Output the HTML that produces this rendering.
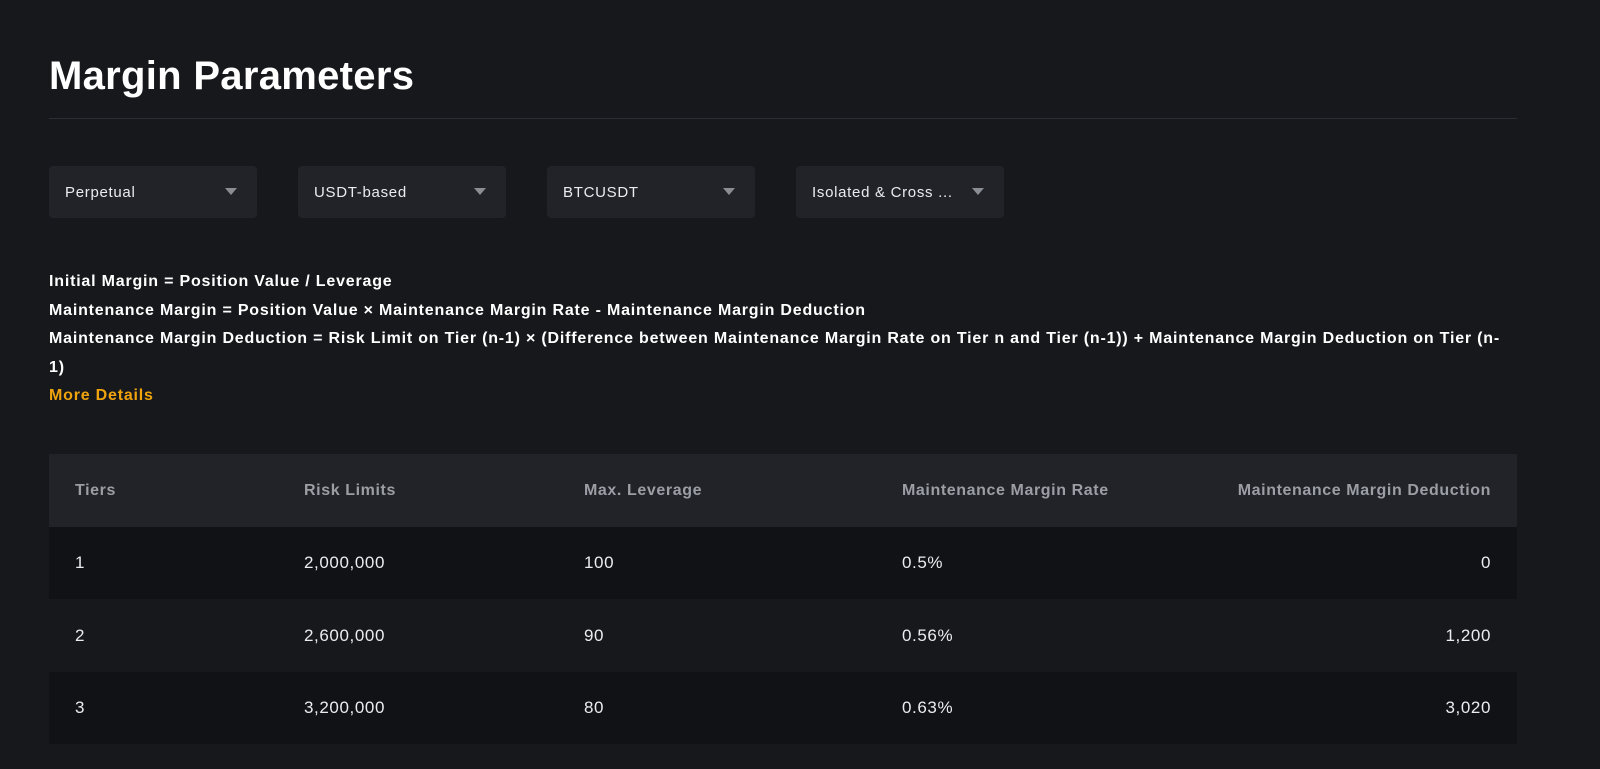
<!DOCTYPE html>
<html><head><meta charset="utf-8"><style>
*{margin:0;padding:0;box-sizing:border-box}
body{width:1600px;height:769px;background:#17181c;font-family:"Liberation Sans",sans-serif;color:#eaecef;overflow:hidden;position:relative}
h1{position:absolute;left:49px;top:54px;font-size:40px;font-weight:bold;color:#fff;letter-spacing:0.3px}
.rule{position:absolute;left:49px;top:118px;width:1468px;height:1px;background:#2b2e35}
.dd{position:absolute;top:166px;width:208px;height:52px;background:#212328;border-radius:4px;font-size:15px;letter-spacing:0.7px;color:#eaecef;padding:18px 0 0 16px}
.dd:after{content:"";position:absolute;right:20px;top:22px;border-left:6px solid transparent;border-right:6px solid transparent;border-top:7px solid #8a8d94}
.f{position:absolute;left:49px;top:268px;font-size:16px;font-weight:bold;line-height:28.6px;color:#fff;width:1460px;letter-spacing:0.8px}
.f .o{color:#f0a30c}
.row{position:absolute;left:49px;width:1468px;font-size:17px;letter-spacing:0.6px}
.row span{position:absolute;top:50%;transform:translateY(-50%)}
.h{color:#9b9ea5;font-weight:bold;font-size:16px;letter-spacing:0.6px}
</style></head><body>
<h1>Margin Parameters</h1>
<div class="rule"></div>
<div class="dd" style="left:49px">Perpetual</div>
<div class="dd" style="left:298px">USDT-based</div>
<div class="dd" style="left:547px">BTCUSDT</div>
<div class="dd" style="left:796px">Isolated &amp; Cross ...</div>
<div class="f">Initial Margin = Position Value / Leverage<br>Maintenance Margin = Position Value × Maintenance Margin Rate - Maintenance Margin Deduction<br>Maintenance Margin Deduction = Risk Limit on Tier (n-1) × (Difference between Maintenance Margin Rate on Tier n and Tier (n-1)) + Maintenance Margin Deduction on Tier (n-<br>1)<br><span class="o">More Details</span></div>
<div class="row h" style="top:454px;height:73px;background:#212328"><span style="left:26px">Tiers</span><span style="left:255px">Risk Limits</span><span style="left:535px">Max. Leverage</span><span style="left:853px">Maintenance Margin Rate</span><span style="right:26px">Maintenance Margin Deduction</span></div>
<div class="row" style="top:527px;height:72px;background:#111215"><span style="left:26px">1</span><span style="left:255px">2,000,000</span><span style="left:535px">100</span><span style="left:853px">0.5%</span><span style="right:26px">0</span></div>
<div class="row" style="top:599px;height:73px;background:#17181c"><span style="left:26px">2</span><span style="left:255px">2,600,000</span><span style="left:535px">90</span><span style="left:853px">0.56%</span><span style="right:26px">1,200</span></div>
<div class="row" style="top:672px;height:72px;background:#111215"><span style="left:26px">3</span><span style="left:255px">3,200,000</span><span style="left:535px">80</span><span style="left:853px">0.63%</span><span style="right:26px">3,020</span></div>
</body></html>
